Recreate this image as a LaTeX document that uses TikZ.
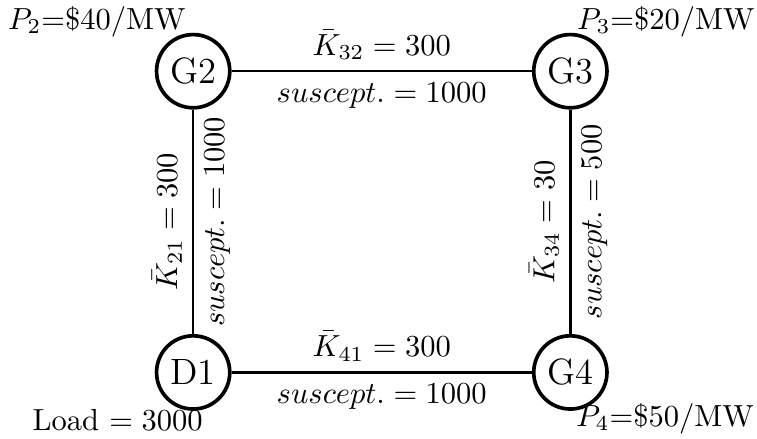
\documentclass[tikz,border=0pt]{standalone}
\usepackage{amsmath, amssymb}
\usepackage{tikz}
\usetikzlibrary{positioning}

\begin{document}
\begin{tikzpicture}[
        bus/.style={draw, circle, very thick, minimum size=24pt, inner sep=0pt, font=\large},
        line/.style={thick},
        price/.style={inner sep=0pt}
    ]
        \useasboundingbox (0,0) rectangle (8.72,5.05);

        % Nodes
        \node[bus] (G2) at (2.225,4.23) {G2};
        \node[bus] (G3) at (6.57,4.23) {G3};
        \node[bus] (D1) at (2.225,0.76) {D1};
        \node[bus] (G4) at (6.57,0.76) {G4};

        \node[price] (p2) at (1.115,4.80) {$P_2$=\$40/MW};
        \node[price] (p3) at (7.67,4.80) {$P_3$=\$20/MW};
        \node[price] (p4) at (7.66,0.23) {$P_4$=\$50/MW};
        \node[price] (load) at (1.355,0.21) {Load $=3000$};

        % Lines
        \draw[line] (G2) -- node[above] {$\bar{K}_{32}=300$} node[below] {$suscept.=1000$} (G3);
        \draw[line] (D1) -- node[above] {$\bar{K}_{41}=300$} node[below] {$suscept.=1000$} (G4);
        \draw[line] (D1) -- node[above, sloped] {$\bar{K}_{21}=300$} node[below, sloped] {$suscept.=1000$} (G2);
        \draw[line] (G4) -- node[above, sloped] {$\bar{K}_{34}=30$} node[below, sloped] {$suscept.=500$} (G3);
    \end{tikzpicture}
\end{document}
